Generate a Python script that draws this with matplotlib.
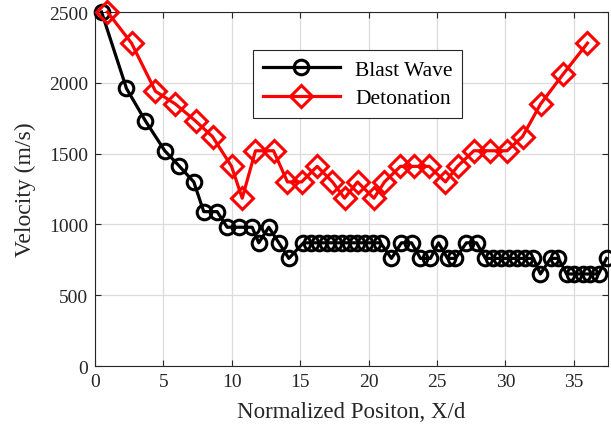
import matplotlib
matplotlib.use("Agg")
import matplotlib.pyplot as plt

# blast wave front velocity along the tube
blast_x = [0.48, 2.30, 3.69, 5.10, 6.13, 7.22, 7.95, 8.93, 9.66, 10.51, 11.49,
           11.97, 12.70, 13.44, 14.17, 15.24, 15.80, 16.37, 16.93, 17.49, 18.05,
           18.62, 19.18, 19.74, 20.30, 20.87, 21.67, 22.40, 23.14, 23.79, 24.52,
           25.11, 25.77, 26.35, 27.15, 27.89, 28.54, 29.12, 29.71, 30.29, 30.88,
           31.46, 32.05, 32.56, 33.30, 33.88, 34.47, 35.05, 35.64, 36.22, 36.81,
           37.39]
blast_v = [2500, 1960, 1730, 1520, 1415, 1300, 1090, 1090, 980, 980, 980,
           870, 980, 870, 760, 870, 870, 870, 870, 870, 870,
           870, 870, 870, 870, 870, 760, 870, 870, 760, 760,
           870, 760, 760, 870, 870, 760, 760, 760, 760, 760,
           760, 760, 650, 760, 760, 650, 650, 650, 650, 650,
           760]

# detonation front velocity
deto_x = [0.91, 2.67, 4.42, 5.88, 7.35, 8.59, 9.98, 10.76, 11.73, 13.05,
          14.07, 15.10, 16.24, 17.36, 18.24, 19.19, 20.39, 21.16, 22.33, 23.32,
          24.42, 25.62, 26.50, 27.69, 28.91, 30.12, 31.25, 32.57, 34.21, 36.00]
deto_v = [2500, 2280, 1940, 1850, 1730, 1620, 1410, 1185, 1520, 1520,
          1300, 1300, 1410, 1300, 1185, 1300, 1185, 1300, 1410, 1410,
          1410, 1300, 1410, 1520, 1520, 1520, 1620, 1850, 2060, 2280]

x_ticks = [0, 5, 10, 15, 20, 25, 30, 35]
y_ticks = [0, 500, 1000, 1500, 2000, 2500]

plt.rcParams['font.family'] = ['Liberation Serif', 'DejaVu Serif']
dark = '#262626'

fig = plt.figure(figsize=(6.11, 4.35), dpi=100)
ax = fig.add_axes([0.1555, 0.1563, 0.8396, 0.8138])

ax.plot(blast_x, blast_v, color='k', lw=2.3, marker='o', ms=10.5,
        mfc='none', mew=2.2, clip_on=False, label='Blast Wave', zorder=3)
ax.plot(deto_x, deto_v, color='#ff0000', lw=2.3, marker='D', ms=11,
        mfc='none', mew=2.2, clip_on=False, label='Detonation', zorder=3)

ax.set_xlim(0, 37.5)
ax.set_ylim(0, 2500)
ax.set_xticks(x_ticks)
ax.set_yticks(y_ticks)
ax.grid(True, color='#dcdcdc', lw=0.9)
ax.set_axisbelow(True)
ax.tick_params(direction='in', top=True, right=True, labelsize=14,
               colors=dark, length=4, pad=5)
for s in ax.spines.values():
    s.set_color(dark)
    s.set_linewidth(0.8)

ax.set_xlabel('Normalized Positon, X/d', fontsize=16.5, color=dark, labelpad=8)
ax.set_ylabel('Velocity (m/s)', fontsize=17, color=dark, labelpad=9)

leg = ax.legend(loc='upper left', bbox_to_anchor=(0.308, 0.893), fontsize=15.5,
                handlelength=3.6, handletextpad=0.7, frameon=True,
                fancybox=False, borderaxespad=0, labelspacing=0.4,
                borderpad=0.45)
leg.get_frame().set_edgecolor(dark)
leg.get_frame().set_linewidth(0.8)
leg.get_frame().set_alpha(1)

fig.savefig('out.png', dpi=100)
